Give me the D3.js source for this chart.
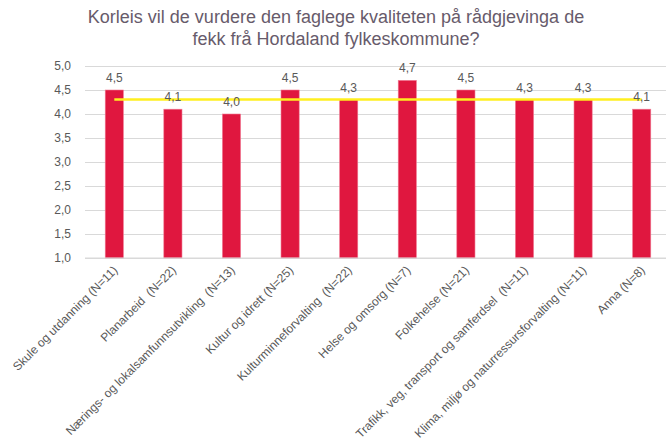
<!DOCTYPE html>
<html>
<head>
<meta charset="utf-8">
<script src="https://cdn.jsdelivr.net/npm/d3@7"></script>
<style>
  body { margin: 0; background: #fff; }
  text { font-family: "Liberation Sans", Arial, sans-serif; }
  .cat { white-space: pre; }
</style>
</head>
<body>
<div id="chart"></div>
<script>
// data
const categories = [
  "Skule og utdanning (N=11)",
  "Planarbeid  (N=22)",
  "Nærings- og lokalsamfunnsutvikling  (N=13)",
  "Kultur og idrett (N=25)",
  "Kulturminneforvalting  (N=22)",
  "Helse og omsorg (N=7)",
  "Folkehelse (N=21)",
  "Trafikk, veg, transport og samferdsel  (N=11)",
  "Klima, miljø og naturressursforvalting (N=11)",
  "Anna (N=8)"
];
const scores = [4.5, 4.1, 4.0, 4.5, 4.3, 4.7, 4.5, 4.3, 4.3, 4.1];
const average = [4.3, 4.3, 4.3, 4.3, 4.3, 4.3, 4.3, 4.3, 4.3, 4.3];
const yTicks = [1.0, 1.5, 2.0, 2.5, 3.0, 3.5, 4.0, 4.5, 5.0];
const titleLines = [
  "Korleis vil de vurdere den faglege kvaliteten på rådgjevinga de",
  "fekk frå Hordaland fylkeskommune?"
];

const width = 666, height = 442;
const margin = { top: 66, right: -5, bottom: 184, left: 85 };
const innerW = width - margin.left - margin.right;
const innerH = height - margin.top - margin.bottom;

const fmt = v => d3.format(".1f")(v).replace(".", ",");

const svg = d3.select("#chart").append("svg")
    .attr("width", width)
    .attr("height", height);

// title
svg.append("text")
    .attr("text-anchor", "middle")
    .attr("fill", "#675b6b")
    .style("font-size", "18px")
    .selectAll("tspan")
    .data(titleLines)
    .enter().append("tspan")
    .attr("x", 336)
    .attr("y", (d, i) => 23 + i * 22)
    .text(d => d);

const g = svg.append("g")
    .attr("transform", "translate(" + margin.left + "," + margin.top + ")");

const x = d3.scaleBand()
    .domain(categories)
    .range([0, innerW])
    .paddingInner(0.69)
    .paddingOuter(0.345);

const y = d3.scaleLinear()
    .domain([1, 5])
    .range([innerH, 0]);

// gridlines + y labels
g.append("g")
    .call(d3.axisLeft(y).tickValues(yTicks).tickSize(-innerW).tickFormat(fmt).tickPadding(14))
    .call(a => a.select(".domain").remove())
    .call(a => a.selectAll("line").attr("stroke", "#d9d9d9"))
    .call(a => a.selectAll("text")
        .attr("fill", "#595959")
        .style("font-size", "12px")
        .style("font-family", "Liberation Sans, Arial, sans-serif"));

// bars
g.selectAll(".bar")
    .data(scores)
    .enter().append("rect")
    .attr("class", "bar")
    .attr("x", (d, i) => x(categories[i]))
    .attr("y", d => y(d))
    .attr("width", x.bandwidth())
    .attr("height", d => y(1) - y(d))
    .attr("fill", "#e0173f")
    .attr("stroke", "#f07a93")
    .attr("stroke-width", 0.6);

// x axis baseline
g.append("line")
    .attr("x1", 0).attr("x2", innerW)
    .attr("y1", innerH).attr("y2", innerH)
    .attr("stroke", "#d9d9d9");

// average line
const line = d3.line()
    .x((d, i) => x(categories[i]) + x.bandwidth() / 2)
    .y(d => y(d));

g.append("path")
    .datum(average)
    .attr("d", line)
    .attr("fill", "none")
    .attr("stroke", "#ffef1f")
    .attr("stroke-width", 2.5);

// value labels
g.selectAll(".val")
    .data(scores)
    .enter().append("text")
    .attr("x", (d, i) => x(categories[i]) + x.bandwidth() / 2)
    .attr("y", d => y(d) - 8)
    .attr("text-anchor", "middle")
    .attr("fill", "#595959")
    .style("font-size", "12px")
    .text(fmt);

// category labels
g.selectAll(".cat")
    .data(categories)
    .enter().append("text")
    .attr("class", "cat")
    .attr("text-anchor", "end")
    .attr("transform", d => "translate(" + (x(d) + x.bandwidth() / 2 + 4) + "," + (innerH + 13) + ") rotate(-45)")
    .attr("fill", "#595959")
    .style("font-size", "12px")
    .text(d => d);
</script>
</body>
</html>
